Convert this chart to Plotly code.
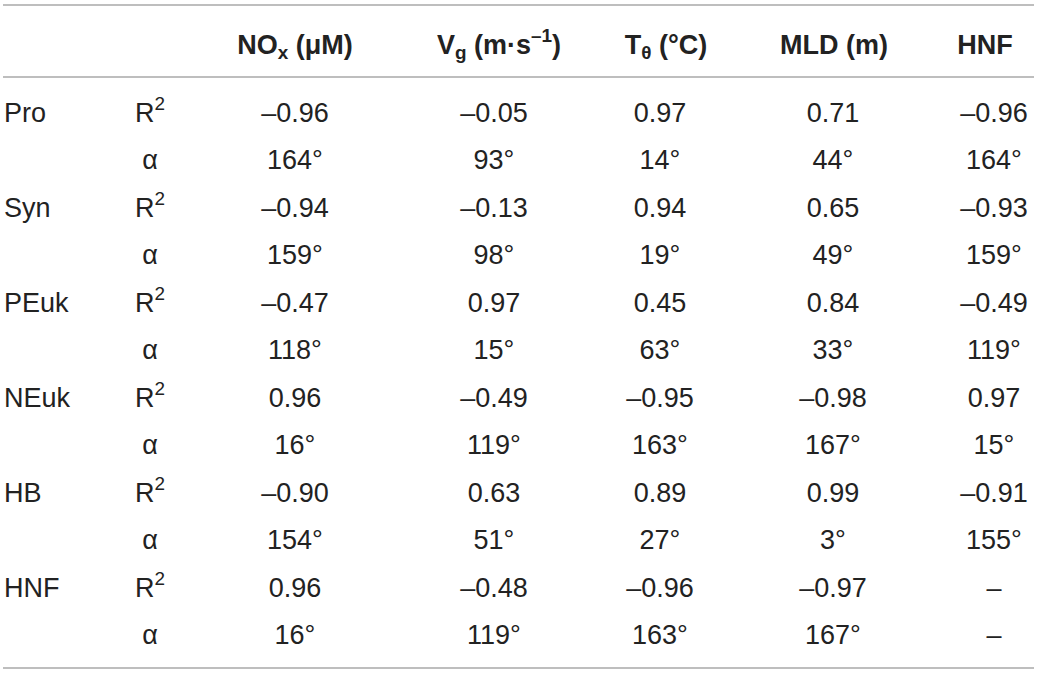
import plotly.graph_objects as go

# table content
columns = ["NO<sub>x</sub> (μM)", "V<sub>g</sub> (m·s<sup>–1</sup>)",
           "T<sub>θ</sub> (°C)", "MLD (m)", "HNF"]
groups = ["Pro", "Syn", "PEuk", "NEuk", "HB", "HNF"]
stats = ["R<sup>2</sup>", "α"]

r2 = [
    ["–0.96", "–0.05", "0.97", "0.71", "–0.96"],
    ["–0.94", "–0.13", "0.94", "0.65", "–0.93"],
    ["–0.47", "0.97", "0.45", "0.84", "–0.49"],
    ["0.96", "–0.49", "–0.95", "–0.98", "0.97"],
    ["–0.90", "0.63", "0.89", "0.99", "–0.91"],
    ["0.96", "–0.48", "–0.96", "–0.97", "–"],
]
alpha = [
    ["164°", "93°", "14°", "44°", "164°"],
    ["159°", "98°", "19°", "49°", "159°"],
    ["118°", "15°", "63°", "33°", "119°"],
    ["16°", "119°", "163°", "167°", "15°"],
    ["154°", "51°", "27°", "3°", "155°"],
    ["16°", "119°", "163°", "167°", "–"],
]

# layout (pixel coordinates on a 1039x674 canvas)
W, H = 1039, 674
col_x = [295, 494, 660, 833, 994]
head_x = [295, 499, 666, 834, 985]
group_x = 4
stat_x = 150
head_y = 47
row0_y = 115
row_step = 47.5
font = "Liberation Sans"
fsize = 27
ink = "#222222"

fig = go.Figure()

# header
fig.add_trace(go.Scatter(
    x=head_x, y=[head_y] * len(columns), mode="text",
    text=["<b>" + c + "</b>" for c in columns],
    textposition="middle center",
    textfont=dict(family=font, size=fsize, color=ink),
    hoverinfo="skip", showlegend=False))

gx, gy, gt = [], [], []
sx, sy, st = [], [], []
vx, vy, vt = [], [], []
for i, g in enumerate(groups):
    for j, s in enumerate(stats):
        y = row0_y + row_step * (2 * i + j)
        if j == 0:
            gx.append(group_x); gy.append(y); gt.append(g)
        sx.append(stat_x); sy.append(y); st.append(s)
        vals = r2[i] if j == 0 else alpha[i]
        for k, v in enumerate(vals):
            vx.append(col_x[k]); vy.append(y); vt.append(v)

fig.add_trace(go.Scatter(
    x=gx, y=gy, mode="text", text=gt, textposition="middle right",
    textfont=dict(family=font, size=fsize, color=ink),
    hoverinfo="skip", showlegend=False))
fig.add_trace(go.Scatter(
    x=sx, y=sy, mode="text", text=st, textposition="middle center",
    textfont=dict(family=font, size=fsize, color=ink),
    hoverinfo="skip", showlegend=False))
fig.add_trace(go.Scatter(
    x=vx, y=vy, mode="text", text=vt, textposition="middle center",
    textfont=dict(family=font, size=fsize, color=ink),
    hoverinfo="skip", showlegend=False))

# rules
for y in [5, 77, 668]:
    fig.add_shape(type="line", x0=3, x1=1034, y0=y, y1=y,
                  xref="x", yref="y", line=dict(color="#a8a8a8", width=1.5))

fig.update_xaxes(range=[0, W], visible=False, fixedrange=True)
fig.update_yaxes(range=[H, 0], visible=False, fixedrange=True)
fig.update_layout(
    width=W, height=H,
    margin=dict(l=0, r=0, t=0, b=0),
    paper_bgcolor="white", plot_bgcolor="white",
)

fig.write_html("out.html", config={"displayModeBar": False},
               post_script="document.body.style.margin='0';")
